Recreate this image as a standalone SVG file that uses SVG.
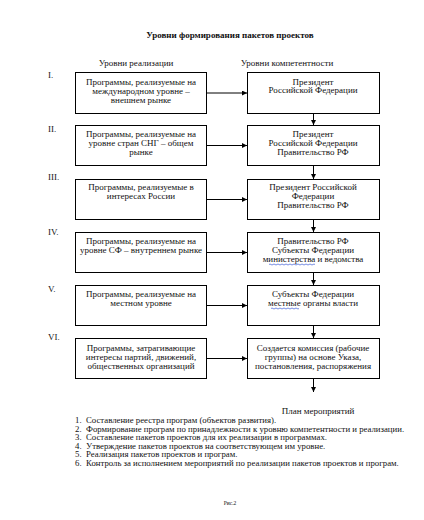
<svg xmlns="http://www.w3.org/2000/svg" width="424" height="520" viewBox="0 0 424 520">
<defs>
<style>
text{font-family:"Liberation Serif","Times New Roman",serif;font-size:9px;fill:#111}
.c{text-anchor:middle}
.b{font-weight:bold}
.li{font-size:8.75px}
.box{fill:#fff;stroke:#000;stroke-width:1}
.ln{stroke:#000;stroke-width:1;fill:none}
.sq{stroke:#3b5bd6;stroke-width:0.7;fill:none}
</style>
<marker id="ah" markerUnits="userSpaceOnUse" markerWidth="5" markerHeight="5" refX="5" refY="2.5" orient="auto">
<path d="M0,0 L5,2.5 L0,5 z" fill="#000"/>
</marker>
</defs>
<rect width="424" height="520" fill="#fff"/>
<text class="c b" x="230" y="38">Уровни формирования пакетов проектов</text>
<text class="c" x="136" y="66">Уровни реализации</text>
<text class="c" x="287" y="66">Уровни компетентности</text>

<g id="numerals">
<text x="48" y="78">I.</text>
<text x="48" y="132">II.</text>
<text x="48" y="180">III.</text>
<text x="48" y="235">IV.</text>
<text x="48" y="292">V.</text>
<text x="48" y="340">VI.</text>
</g>

<g id="L1"><rect class="box" x="75.5" y="72.5" width="131" height="41"/>
<text class="c" x="141" y="85">Программы, реализуемые на</text>
<text class="c" x="141" y="94">международном уровне –</text>
<text class="c" x="141" y="103">внешнем рынке</text></g>
<g id="R1"><rect class="box" x="247.5" y="72.5" width="132" height="41"/>
<text class="c" x="313" y="84.5">Президент</text>
<text class="c" x="313" y="93">Российской Федерации</text></g>

<g id="L2"><rect class="box" x="75.5" y="125.5" width="131" height="40"/>
<text class="c" x="141" y="137">Программы, реализуемые на</text>
<text class="c" x="141" y="146">уровне стран СНГ – общем</text>
<text class="c" x="141" y="155">рынке</text></g>
<g id="R2"><rect class="box" x="247.5" y="125.5" width="132" height="40"/>
<text class="c" x="313" y="137">Президент</text>
<text class="c" x="313" y="146">Российской Федерации</text>
<text class="c" x="313" y="155">Правительство РФ</text></g>

<g id="L3"><rect class="box" x="75.5" y="179.5" width="131" height="40"/>
<text class="c" x="141" y="190">Программы, реализуемые в</text>
<text class="c" x="141" y="199">интересах России</text></g>
<g id="R3"><rect class="box" x="247.5" y="179.5" width="132" height="40"/>
<text class="c" x="313" y="190">Президент Российской</text>
<text class="c" x="313" y="199">Федерации</text>
<text class="c" x="313" y="208">Правительство РФ</text></g>

<g id="L4"><rect class="box" x="75.5" y="232.5" width="131" height="40"/>
<text class="c" x="141" y="244">Программы, реализуемые на</text>
<text class="c" x="141" y="253">уровне СФ – внутреннем рынке</text></g>
<g id="R4"><rect class="box" x="247.5" y="232.5" width="132" height="40"/>
<text class="c" x="313" y="244">Правительство РФ</text>
<text class="c" x="313" y="253">Субъекты Федерации</text>
<text class="c" x="313" y="262">министерства и ведомства</text>
<path class="sq" d="M269,264.5 q1,-1 2,0 t2,0 t2,0 t2,0 t2,0 t2,0 t2,0 t2,0 t2,0 t2,0 t2,0 t2,0 t2,0 t2,0 t2,0 t2,0 t2,0 t2,0 t2,0 t2,0 t2,0 t2,0 t2,0"/></g>

<g id="L5"><rect class="box" x="75.5" y="285.5" width="131" height="40"/>
<text class="c" x="141" y="297">Программы, реализуемые на</text>
<text class="c" x="141" y="306">местном уровне</text></g>
<g id="R5"><rect class="box" x="247.5" y="285.5" width="132" height="40"/>
<text class="c" x="313" y="297">Субъекты Федерации</text>
<text class="c" x="313" y="306">местные органы власти</text>
<path class="sq" d="M271,308.5 q1,-1 2,0 t2,0 t2,0 t2,0 t2,0 t2,0 t2,0 t2,0 t2,0 t2,0 t2,0 t2,0 t2,0 t2,0"/></g>

<g id="L6"><rect class="box" x="75.5" y="338.5" width="131" height="40"/>
<text class="c" x="141" y="350.5">Программы, затрагивающие</text>
<text class="c" x="141" y="359.5">интересы партий, движений,</text>
<text class="c" x="141" y="368.5">общественных организаций</text></g>
<g id="R6"><rect class="box" x="247.5" y="338.5" width="132" height="40"/>
<text class="c" x="313" y="350.5">Создается комиссия (рабочие</text>
<text class="c" x="313" y="359.5">группы) на основе Указа,</text>
<text class="c" x="313" y="368.5">постановления, распоряжения</text></g>

<g id="connectors">
<line class="ln" x1="206.5" y1="93" x2="247" y2="93" marker-end="url(#ah)"/>
<line class="ln" x1="206.5" y1="145.5" x2="247" y2="145.5" marker-end="url(#ah)"/>
<line class="ln" x1="206.5" y1="199.5" x2="247" y2="199.5" marker-end="url(#ah)"/>
<line class="ln" x1="206.5" y1="252.5" x2="247" y2="252.5" marker-end="url(#ah)"/>
<line class="ln" x1="206.5" y1="305.5" x2="247" y2="305.5" marker-end="url(#ah)"/>
<line class="ln" x1="206.5" y1="358.5" x2="247" y2="358.5" marker-end="url(#ah)"/>
<line class="ln" x1="313.5" y1="113.5" x2="313.5" y2="125" marker-end="url(#ah)"/>
<line class="ln" x1="313.5" y1="165.5" x2="313.5" y2="179" marker-end="url(#ah)"/>
<line class="ln" x1="313.5" y1="219.5" x2="313.5" y2="232" marker-end="url(#ah)"/>
<line class="ln" x1="313.5" y1="272.5" x2="313.5" y2="285" marker-end="url(#ah)"/>
<line class="ln" x1="313.5" y1="325.5" x2="313.5" y2="338" marker-end="url(#ah)"/>
<line class="ln" x1="313.5" y1="378.5" x2="313.5" y2="392" marker-end="url(#ah)"/>
</g>

<text class="c" x="318" y="414">План мероприятий</text>
<g id="list" class="li">
<text class="li" x="75" y="423">1.</text><text class="li" x="86" y="423">Составление реестра програм (объектов развития).</text>
<text class="li" x="75" y="431.5">2.</text><text class="li" x="86" y="431.5">Формирование програм по принадлежности к уровню компетентности и реализации.</text>
<text class="li" x="75" y="440">3.</text><text class="li" x="86" y="440">Составление пакетов проектов для их реализации в программах.</text>
<text class="li" x="75" y="448.5">4.</text><text class="li" x="86" y="448.5">Утверждение пакетов проектов на соответствующем им уровне.</text>
<text class="li" x="75" y="457">5.</text><text class="li" x="86" y="457">Реализация пакетов проектов и програм.</text>
<text class="li" x="75" y="465.5">6.</text><text class="li" x="86" y="465.5">Контроль за исполнением мероприятий по реализации пакетов проектов и програм.</text>
</g>
<text class="c" x="230" y="505" style="font-size:5.5px">Рис.2</text>
</svg>
